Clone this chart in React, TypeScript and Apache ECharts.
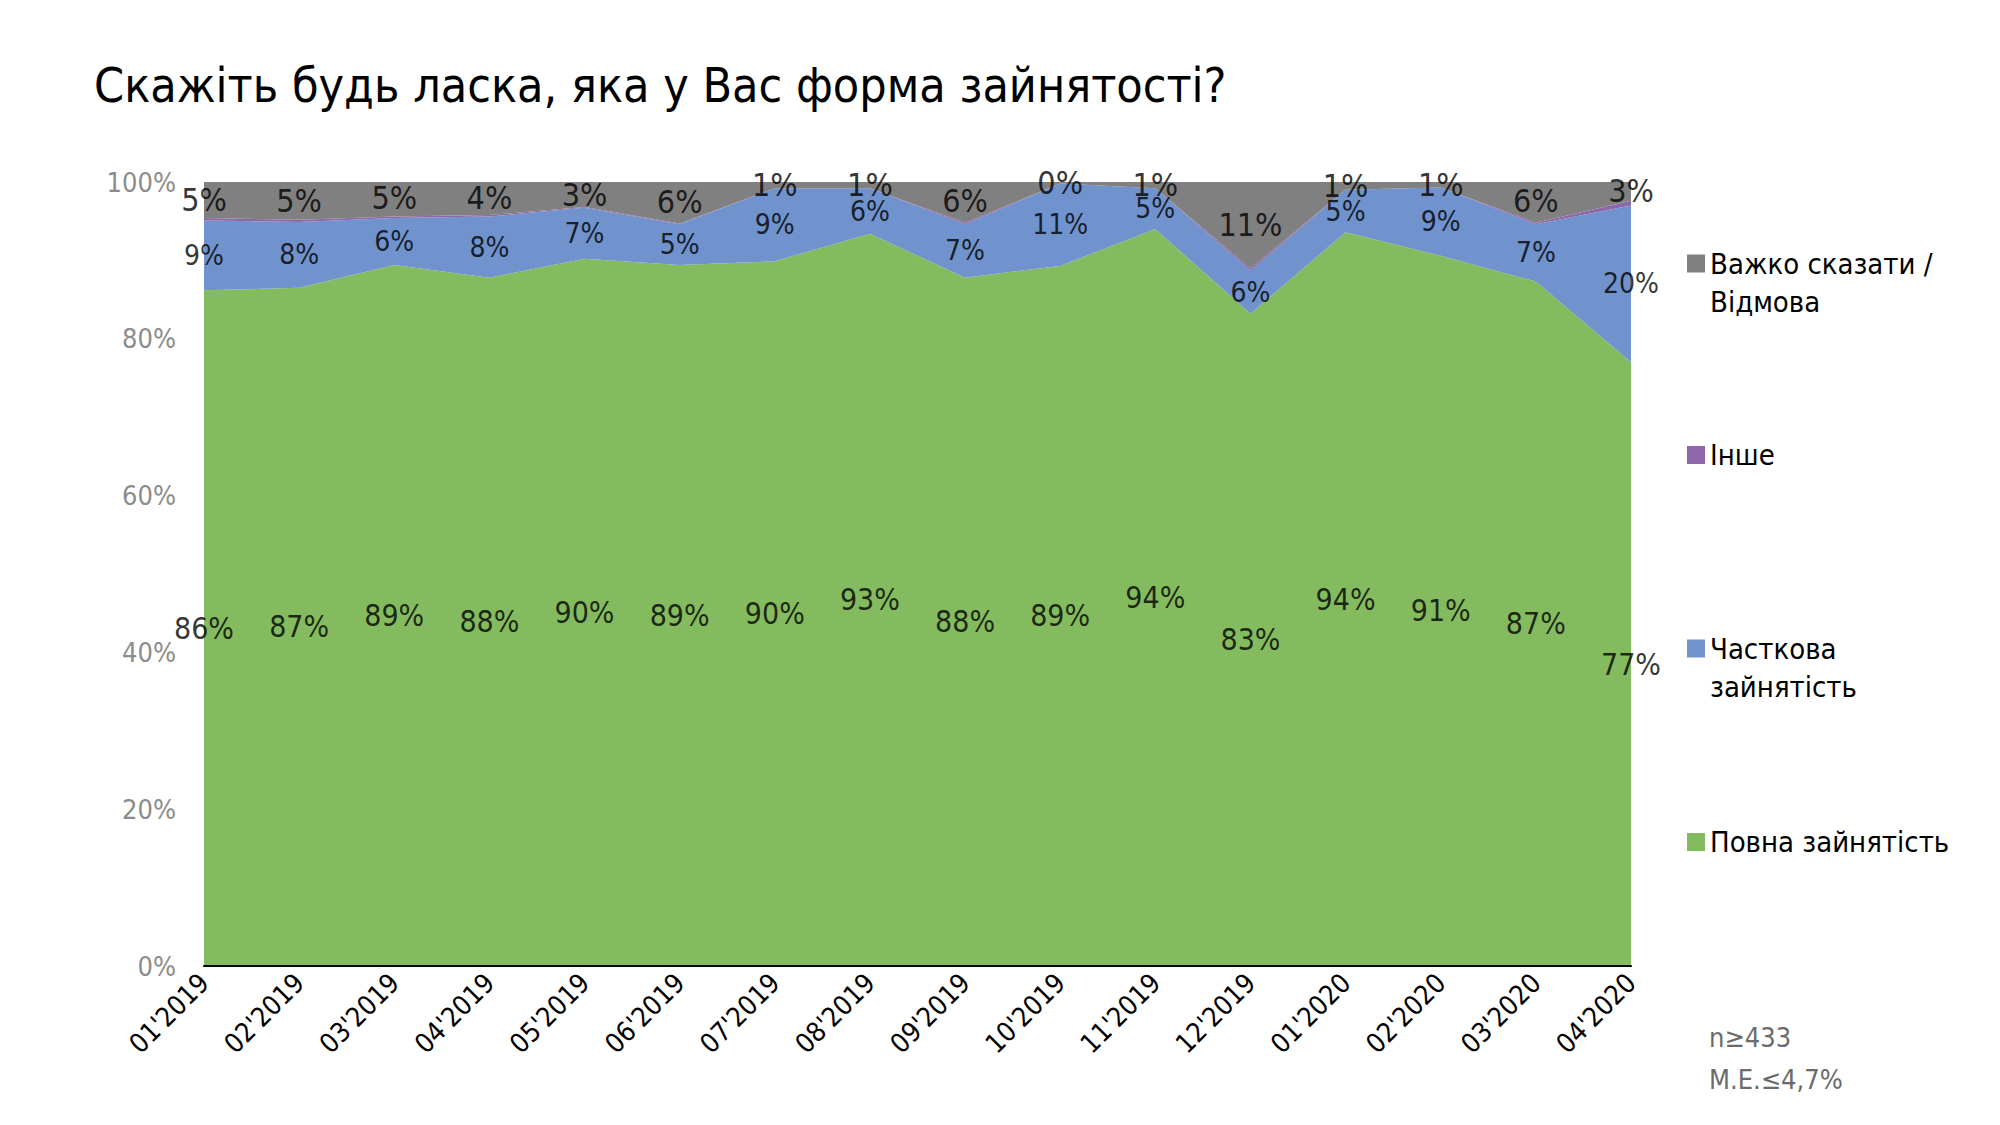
import React, { useEffect, useRef } from "react";
import * as echarts from "echarts";

const categories = ["01'2019", "02'2019", "03'2019", "04'2019", "05'2019", "06'2019", "07'2019", "08'2019", "09'2019", "10'2019", "11'2019", "12'2019", "01'2020", "02'2020", "03'2020", "04'2020"];
const fullEmployment = [86.2, 86.5, 89.4, 87.8, 90.2, 89.4, 89.9, 93.4, 87.8, 89.3, 94.0, 83.2, 93.6, 90.6, 87.3, 77.0];
const partEmployment = [8.9, 8.4, 6.0, 7.8, 6.5, 5.2, 9.3, 5.8, 6.8, 10.5, 5.2, 5.5, 5.4, 8.7, 7.3, 20.0];
const otherShare = [0.3, 0.3, 0.2, 0.2, 0.1, 0.1, 0, 0, 0.2, 0, 0, 0.3, 0, 0, 0.2, 0.6];
const hardToSay = [4.6, 4.8, 4.6, 4.2, 3.2, 5.5, 0.8, 0.8, 5.5, 0.2, 0.8, 11.0, 1.0, 0.7, 5.5, 2.5];
const yTicks = [0, 20, 40, 60, 80, 100];

const NAME_FULL = "Повна зайнятість";
const NAME_PART = "Часткова зайнятість";
const NAME_OTHER = "Інше";
const NAME_HARD = "Важко сказати / Відмова";

const FONT = "'DejaVu Sans Condensed', 'DejaVu Sans', sans-serif";
const C_GREEN = "#85bb5f";
const C_BLUE = "#7093cd";
const C_PURPLE = "#8e67ab";
const C_GRAY = "#808080";

export default function App() {
  const ref = useRef<HTMLDivElement>(null);
  useEffect(() => {
    if (!ref.current) return;
    const chart = echarts.init(ref.current, null, { renderer: "svg" });

    const mid = (base: number[][], vals: number[]) =>
      vals.map((v, i) => {
        const b = base.reduce((s, arr) => s + arr[i], 0);
        return [i, b + v / 2];
      });

    const labelSeries = (data: number[][], vals: number[], size: number) => ({
      type: "scatter",
      symbolSize: 0,
      silent: true,
      data,
      z: 10,
      label: {
        show: true,
        position: "inside",
        color: "#000",
        fontFamily: FONT,
        fontSize: size,
        formatter: (p: any) => Math.round(vals[p.dataIndex]) + "%",
      },
    });

    const area = (name: string, data: number[], color: string) => ({
      name,
      type: "line",
      stack: "total",
      data,
      symbol: "none",
      lineStyle: { width: 0 },
      itemStyle: { color },
      areaStyle: { color, opacity: 1 },
      silent: true,
    });

    const twoLineIcon = "path://M0,0h0.01v0.01h-0.01z M0,9.5h18v18h-18z M0,76h0.01v0.01h-0.01z";

    const legendBase = {
      orient: "vertical",
      left: 1687,
      padding: 0,
      itemGap: 8,
      selectedMode: false,
      textStyle: { fontFamily: FONT, fontSize: 29, color: "#000", lineHeight: 38 },
    };

    chart.setOption({
      animation: false,
      title: {
        text: "Скажіть будь ласка, яка у Вас форма зайнятості?",
        left: 94,
        top: 61,
        padding: 0,
        textStyle: { fontFamily: FONT, fontSize: 48, fontWeight: "normal", color: "#000" },
      },
      legend: [
        { ...legendBase, top: 245, itemWidth: 18, itemHeight: 76, data: [{ name: NAME_HARD, icon: twoLineIcon }], formatter: () => "Важко сказати /\nВідмова" },
        { ...legendBase, top: 436, itemWidth: 18, itemHeight: 18, data: [{ name: NAME_OTHER, icon: "rect" }] },
        { ...legendBase, top: 630, itemWidth: 18, itemHeight: 76, data: [{ name: NAME_PART, icon: twoLineIcon }], formatter: () => "Часткова\nзайнятість" },
        { ...legendBase, top: 823, itemWidth: 18, itemHeight: 18, data: [{ name: NAME_FULL, icon: "rect" }] },
      ],
      grid: { left: 204, right: 369, top: 182, bottom: 159, containLabel: false },
      xAxis: {
        type: "category",
        data: categories,
        boundaryGap: false,
        axisLine: { show: true, lineStyle: { color: "#000", width: 2 } },
        axisTick: { show: false },
        axisLabel: { rotate: 45, margin: 12, fontFamily: FONT, fontSize: 27, color: "#000", interval: 0 },
        splitLine: { show: false },
        z: 20,
      },
      yAxis: {
        type: "value",
        min: yTicks[0],
        max: yTicks[yTicks.length - 1],
        interval: 20,
        axisLine: { show: false },
        axisTick: { show: false },
        splitLine: { show: false },
        axisLabel: { margin: 28, fontFamily: FONT, fontSize: 27, color: "#8c8c8c", formatter: "{value}%" },
      },
      series: [
        area(NAME_FULL, fullEmployment, C_GREEN),
        area(NAME_PART, partEmployment, C_BLUE),
        area(NAME_OTHER, otherShare, C_PURPLE),
        area(NAME_HARD, hardToSay, C_GRAY),
        labelSeries(mid([], fullEmployment), fullEmployment, 30),
        labelSeries(mid([fullEmployment], partEmployment), partEmployment, 28),
        labelSeries(mid([fullEmployment, partEmployment, otherShare], hardToSay), hardToSay, 32),
      ],
      graphic: [
        { type: "text", left: 1709, top: 1024, style: { text: "n≥433", fontFamily: FONT, fontSize: 27, fill: "#6b6b6b" } },
        { type: "text", left: 1709, top: 1066, style: { text: "M.E.≤4,7%", fontFamily: FONT, fontSize: 27, fill: "#6b6b6b" } },
      ],
    });
    return () => chart.dispose();
  }, []);
  return <div ref={ref} style={{ position: "fixed", left: 0, top: 0, width: 2000, height: 1125, background: "#fff" }} />;
}
